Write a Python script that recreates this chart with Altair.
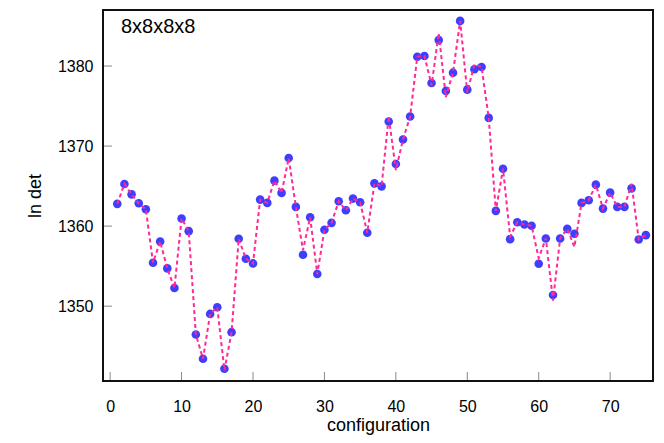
import altair as alt
import pandas as pd

config_idx = list(range(1, 76))
blue_vals = [1362.78, 1365.27, 1363.97, 1362.85, 1362.10, 1355.43, 1358.08, 1354.72, 1352.27, 1360.95,
             1359.37, 1346.46, 1343.43, 1349.03, 1349.86, 1342.18, 1346.75, 1358.42, 1355.93, 1355.34,
             1363.31, 1362.90, 1365.68, 1364.15, 1368.50, 1362.40, 1356.43, 1361.11, 1354.01, 1359.54,
             1360.41, 1363.10, 1361.98, 1363.44, 1362.98, 1359.17, 1365.34, 1364.97, 1373.06, 1367.76,
             1370.82, 1373.69, 1381.16, 1381.25, 1377.88, 1383.24, 1376.89, 1379.17, 1385.64, 1377.05,
             1379.59, 1379.88, 1373.52, 1361.90, 1367.17, 1358.37, 1360.49, 1360.20, 1360.04, 1355.30,
             1358.46, 1351.40, 1358.46, 1359.66, 1359.04, 1362.90, 1363.23, 1365.18, 1362.19, 1364.18,
             1362.40, 1362.40, 1364.72, 1358.33, 1358.87]
pink_vals = [1362.78, 1365.27, 1363.97, 1362.85, 1362.10, 1355.43, 1358.08, 1354.72, 1352.27, 1360.95,
             1359.37, 1346.46, 1343.43, 1349.03, 1349.86, 1342.00, 1346.75, 1358.42, 1355.93, 1355.34,
             1363.31, 1362.90, 1365.68, 1364.15, 1368.50, 1362.40, 1357.00, 1361.11, 1354.01, 1359.54,
             1360.41, 1363.10, 1361.98, 1363.44, 1362.98, 1359.17, 1365.34, 1364.97, 1373.70, 1367.00,
             1370.82, 1373.69, 1381.16, 1381.25, 1377.60, 1384.10, 1376.10, 1379.17, 1385.64, 1376.70,
             1380.20, 1379.88, 1373.52, 1361.90, 1367.17, 1358.70, 1360.49, 1360.20, 1360.04, 1356.00,
             1358.46, 1350.70, 1358.46, 1359.66, 1357.40, 1362.90, 1363.23, 1365.18, 1362.19, 1364.18,
             1362.40, 1362.40, 1365.30, 1358.33, 1358.87]
x_ticks = [0, 10, 20, 30, 40, 50, 60, 70]
y_ticks = [1350, 1360, 1370, 1380]
panel_label = "8x8x8x8"

W, H = 550, 371
xs = alt.Scale(domain=[-1, 76], nice=False, zero=False)
ys = alt.Scale(domain=[1340.65, 1387.0], nice=False, zero=False)

df = pd.DataFrame({"c": config_idx, "blue": blue_vals, "pink": pink_vals})
fs = "Liberation Sans"

x_axis = alt.Axis(values=x_ticks, ticks=False, tickSize=0, domain=False, grid=False, format="d",
                  labelFontSize=16, labelPadding=17, labelColor="black", labelFont=fs,
                  titleFontSize=18, titleFont=fs, titleFontWeight="normal", titleColor="black",
                  titlePadding=2)
y_axis = alt.Axis(values=y_ticks, ticks=False, tickSize=0, domain=False, grid=False, format="d",
                  labelFontSize=16, labelPadding=10, labelColor="black", labelFont=fs,
                  titleFontSize=18, titleFont=fs, titleFontWeight="normal", titleColor="black",
                  titlePadding=13)

points = alt.Chart(df).mark_circle(size=74, color="#3434ff", opacity=0.95).encode(
    x=alt.X("c:Q", scale=xs, axis=x_axis, title="configuration"),
    y=alt.Y("blue:Q", scale=ys, axis=y_axis, title="ln det"),
)
line = alt.Chart(df).mark_line(color="#ff2a95", strokeWidth=2, strokeDash=[4, 3]).encode(
    x=alt.X("c:Q", scale=xs),
    y=alt.Y("pink:Q", scale=ys),
)

xt = pd.DataFrame({"t": x_ticks})
yt = pd.DataFrame({"t": y_ticks})
xtick = alt.Chart(xt).mark_rule(color="#888888", strokeWidth=1).encode(
    x=alt.X("t:Q", scale=xs), y=alt.value(H), y2=alt.value(H - 9))
ytick = alt.Chart(yt).mark_rule(color="#888888", strokeWidth=1).encode(
    y=alt.Y("t:Q", scale=ys), x=alt.value(0), x2=alt.value(9))

frame = alt.Chart(pd.DataFrame({"s": [panel_label]})).mark_rect(
    filled=False, stroke="#111111", strokeWidth=2).encode(
    x=alt.value(0), x2=alt.value(W), y=alt.value(0), y2=alt.value(H))

label = alt.Chart(pd.DataFrame({"s": [panel_label]})).mark_text(
    align="left", baseline="alphabetic", fontSize=20, font=fs, color="black").encode(
    x=alt.value(18), y=alt.value(23), text="s:N")

chart = alt.layer(xtick, ytick, points, line, frame, label).properties(
    width=W, height=H,
    autosize=alt.AutoSizeParams(type="none"),
    padding={"left": 95, "top": 2, "right": 3, "bottom": 60},
).configure_view(strokeWidth=0).configure(background="white")

chart.save("out.html", embed_options={"renderer": "svg", "actions": False})
